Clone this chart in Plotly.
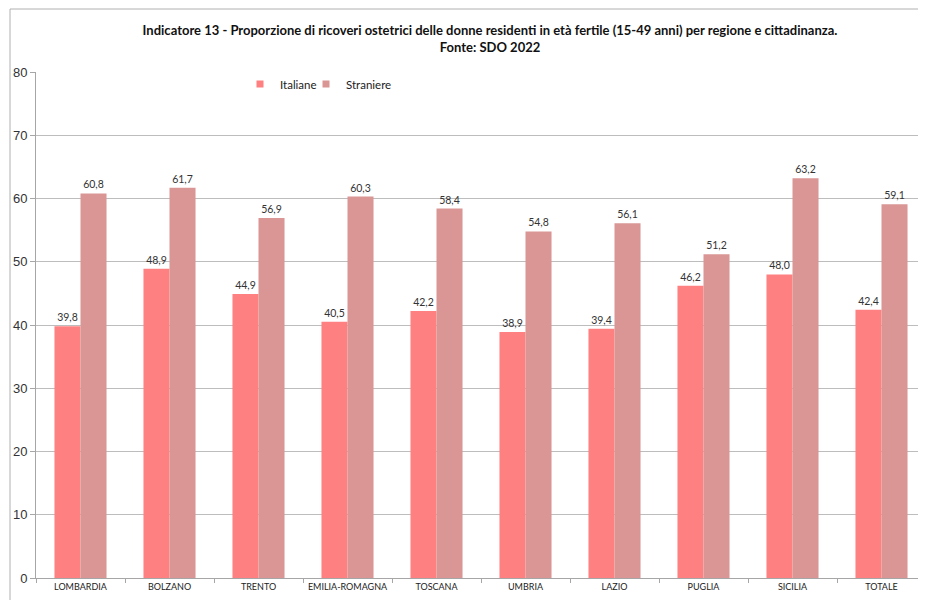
import plotly.graph_objects as go

categories = ["LOMBARDIA", "BOLZANO", "TRENTO", "EMILIA-ROMAGNA", "TOSCANA",
              "UMBRIA", "LAZIO", "PUGLIA", "SICILIA", "TOTALE"]
italiane = [39.8, 48.9, 44.9, 40.5, 42.2, 38.9, 39.4, 46.2, 48.0, 42.4]
straniere = [60.8, 61.7, 56.9, 60.3, 58.4, 54.8, 56.1, 51.2, 63.2, 59.1]
y_ticks = [0, 10, 20, 30, 40, 50, 60, 70, 80]
series_names = ["Italiane", "Straniere"]
series_colors = ["#FF8080", "#D99694"]

def fmt(v):
    return f"{v:.1f}".replace(".", ",")

fig = go.Figure()
for name, vals, col in zip(series_names, [italiane, straniere], series_colors):
    fig.add_trace(go.Bar(
        name=name, x=categories, y=vals, showlegend=False,
        marker=dict(color=col, line=dict(width=0)),
        text=[fmt(v) for v in vals], textposition="outside",
        textfont=dict(size=10.5, color="#333333", family="Lato"), cliponaxis=False,
    ))
legend_ids = ["legend", "legend2"]
for name, col, lg in zip(series_names, series_colors, legend_ids):
    fig.add_trace(go.Scatter(
        name=name, x=[None], y=[None], mode="markers", legend=lg,
        marker=dict(symbol="square", size=7, color=col), showlegend=True,
    ))

# page body has an 8px offset; figure coordinates = screen - 8
OFF = 8
W, H = 926 - OFF, 600 - OFF
L, R, T, B = 36 - OFF, 0, 72 - OFF, 22
pw, ph = W - L - R, H - T - B

def px_x(p):
    return (p - OFF - L) / pw

def px_y(p):
    return (H - B - (p - OFF)) / ph

fig.add_shape(type="rect", xref="paper", yref="paper",
              x0=px_x(10), x1=px_x(940), y0=px_y(620), y1=px_y(9),
              line=dict(color="#B0B0B0", width=1), fillcolor="rgba(0,0,0,0)", layer="below")

legend_style = dict(
    orientation="h", xanchor="left", yanchor="middle",
    font=dict(family="Lato", size=11.5, color="#222222"),
    bgcolor="rgba(0,0,0,0)", itemwidth=30,
)

fig.update_layout(
    width=W, height=H,
    margin=dict(l=L, r=R, t=T, b=B, autoexpand=False),
    paper_bgcolor="white", plot_bgcolor="white",
    barmode="group", bargap=0.415, bargroupgap=0,
    title=dict(
        text="Indicatore 13 - Proporzione di ricoveri ostetrici delle donne residenti in età fertile (15-49 anni) per regione e cittadinanza.<br>Fonte: SDO 2022",
        xref="container", x=(490 - OFF) / W, xanchor="center",
        yref="container", y=1 - (35 - OFF) / H, yanchor="middle",
        font=dict(family="Lato", size=13, color="#111111", weight="bold"),
    ),
    legend=dict(x=px_x(240), y=px_y(84), **legend_style),
    legend2=dict(x=px_x(306), y=px_y(84), **legend_style),
    font=dict(family="Liberation Sans", color="#333333"),
    showlegend=True,
)
fig.update_yaxes(
    range=[0, 80], tickvals=y_ticks, showgrid=True, gridcolor="#BDBDBD", gridwidth=1,
    showline=True, linecolor="#A6A6A6", linewidth=1,
    ticks="outside", ticklen=5, tickcolor="#A6A6A6",
    tickfont=dict(family="Liberation Sans", size=13, color="#333333"),
    zeroline=False, automargin=False,
)
fig.update_xaxes(
    showline=True, linecolor="#A6A6A6", linewidth=1,
    ticks="outside", ticklen=4, tickcolor="#A6A6A6", tickson="boundaries",
    tickangle=0, automargin=False,
    tickfont=dict(family="Lato", size=9, color="#222222"),
)

fig.write_html("out.html")
